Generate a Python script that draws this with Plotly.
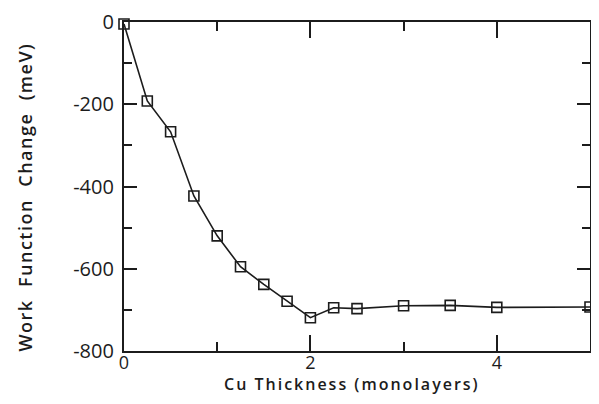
import plotly.graph_objects as go

thickness_ml = [0, 0.25, 0.5, 0.75, 1.0, 1.25, 1.5, 1.75, 2.0, 2.25, 2.5, 3.0, 3.5, 4.0, 5.0]
work_function_change_meV = [-5, -192, -267, -423, -520, -595, -638, -679, -719, -695, -697, -690, -689, -694, -693]

x_major = [0, 2, 4]
x_minor = [1, 3]
y_major = [0, -200, -400, -600, -800]
y_major_text = ["0", "-200", "-400", "-600", "-800"]
y_minor = [-100, -300, -500, -700]

x_title = "Cu Thickness (monolayers)"
y_title = "Work  Function  Change  (meV)"

INK = "#1c1c1c"
FONT = "Open Sans"

def spaced(txt, px):
    return '<span style="letter-spacing:%spx">%s</span>' % (px, txt)

fig = go.Figure()
fig.add_trace(go.Scatter(
    x=thickness_ml, y=work_function_change_meV,
    mode="lines+markers",
    line=dict(color=INK, width=1.6),
    marker=dict(symbol="square-open", size=10, color=INK, line=dict(width=1.6, color=INK)),
    cliponaxis=False,
    showlegend=False,
))

fig.update_layout(
    width=583, height=388,
    margin=dict(l=116, r=1, t=14, b=45),
    paper_bgcolor="white", plot_bgcolor="white",
    font=dict(family=FONT, color=INK),
    xaxis=dict(
        range=[0, 5], showgrid=False, zeroline=False,
        showline=True, linecolor=INK, linewidth=2.2, mirror="allticks",
        tickmode="array", tickvals=x_major, ticktext=[str(v) for v in x_major],
        ticks="inside", ticklen=16, tickwidth=2, tickcolor=INK,
        tickfont=dict(size=18, family=FONT, color=INK),
        ticklabelstandoff=-6,
        minor=dict(tickvals=x_minor, ticks="inside", ticklen=9, tickwidth=2, tickcolor=INK),
        automargin=False,
    ),
    yaxis=dict(
        range=[-800, 0], showgrid=False, zeroline=False,
        showline=True, linecolor=INK, linewidth=2.2, mirror="allticks",
        tickmode="array", tickvals=y_major, ticktext=y_major_text,
        ticks="inside", ticklen=13, tickwidth=2, tickcolor=INK,
        tickfont=dict(size=20, family=FONT, color=INK),
        ticklabelstandoff=4,
        minor=dict(tickvals=y_minor, ticks="inside", ticklen=8, tickwidth=2, tickcolor=INK),
        automargin=False,
    ),
    annotations=[
        dict(text=spaced(x_title, 2), xref="paper", yref="paper", x=0.49, y=-0.101,
             xanchor="center", yanchor="middle", showarrow=False,
             font=dict(size=16, family=FONT, color=INK, weight=600)),
        dict(text=spaced(y_title, 1.5), xref="paper", yref="paper", x=-0.2114, y=0.468,
             xanchor="center", yanchor="middle", showarrow=False, textangle=-90,
             font=dict(size=18, family=FONT, color=INK, weight=600)),
    ],
)

fig.write_html("out.html")
